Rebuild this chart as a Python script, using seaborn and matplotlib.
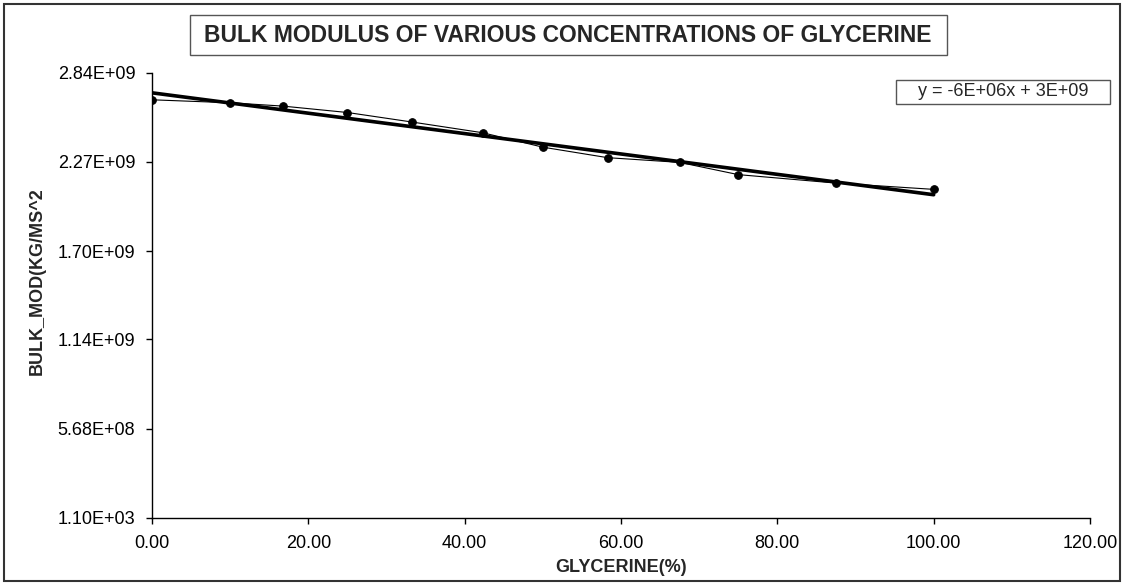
import numpy as np
import pandas as pd
import seaborn as sns
import matplotlib.pyplot as plt
from matplotlib.patches import Rectangle
from matplotlib.ticker import FormatStrFormatter

# data
glycerine = [0, 10, 16.7, 25, 33.3, 42.3, 50, 58.3, 67.5, 75, 87.5, 100]
bulk_mod = [2.666e9, 2.647e9, 2.626e9, 2.585e9, 2.524e9, 2.456e9,
            2.364e9, 2.297e9, 2.267e9, 2.189e9, 2.135e9, 2.095e9]
y_ticks = [1.10e3, 5.68e8, 1.14e9, 1.70e9, 2.27e9, 2.84e9]
x_ticks = [0, 20, 40, 60, 80, 100, 120]

df = pd.DataFrame({'glycerine': glycerine, 'bulk_mod': bulk_mod})

sns.set_style('white')
plt.rcParams['font.family'] = ['Liberation Sans', 'DejaVu Sans']

fig = plt.figure(figsize=(11.25, 5.84), dpi=100)
ax = fig.add_axes([152 / 1125, 66 / 584, 938 / 1125, 445.5 / 584])

# thin data line with dots
sns.lineplot(data=df, x='glycerine', y='bulk_mod', ax=ax, color='black',
             linewidth=0.8, marker='o', markersize=5.5, markeredgecolor='black')
# thick linear trend line
sns.regplot(data=df, x='glycerine', y='bulk_mod', ax=ax, scatter=False, ci=None,
            color='black', line_kws={'linewidth': 2.6})

ax.set_xlim(0, 120)
ax.set_ylim(y_ticks[0], y_ticks[-1])
ax.set_xticks(x_ticks)
ax.set_yticks(y_ticks)
ax.xaxis.set_major_formatter(FormatStrFormatter('%.2f'))
ax.yaxis.set_major_formatter(FormatStrFormatter('%.2E'))
ax.tick_params(axis='both', direction='out', length=4, width=1, colors='black',
               labelsize=13, left=True, bottom=True)
ax.tick_params(axis='y', pad=8)
ax.tick_params(axis='x', pad=8)

for side in ['top', 'right']:
    ax.spines[side].set_visible(False)
for side in ['left', 'bottom']:
    ax.spines[side].set_color('black')
    ax.spines[side].set_linewidth(1)

ax.set_xlabel('GLYCERINE(%)', fontsize=13, fontweight='bold')
ax.set_ylabel('BULK_MOD(KG/MS^2', fontsize=13, fontweight='bold')
ax.xaxis.set_label_coords(0.5, -0.092)
ax.yaxis.set_label_coords(-0.1133, 0.531)

# outer chart border
fig.patches.append(Rectangle((4 / 1125, 3 / 584), 1116 / 1125, 577 / 584,
                             transform=fig.transFigure, fill=False,
                             edgecolor='#333333', linewidth=1.5))

# title box
fig.patches.append(Rectangle((190 / 1125, 1 - 55 / 584), 757 / 1125, 40 / 584,
                             transform=fig.transFigure, fill=False,
                             edgecolor='#555555', linewidth=1))
fig.text(568 / 1125, 1 - 35.5 / 584, 'BULK MODULUS OF VARIOUS CONCENTRATIONS OF GLYCERINE',
         ha='center', va='center', fontsize=16.5, fontweight='bold')

# trendline equation box
fig.patches.append(Rectangle((896 / 1125, 1 - 104 / 584), 214 / 1125, 24 / 584,
                             transform=fig.transFigure, fill=False,
                             edgecolor='#555555', linewidth=1))
fig.text(1003 / 1125, 1 - 92 / 584, 'y = -6E+06x + 3E+09',
         ha='center', va='center', fontsize=13)

fig.savefig('out.png', dpi=100)
